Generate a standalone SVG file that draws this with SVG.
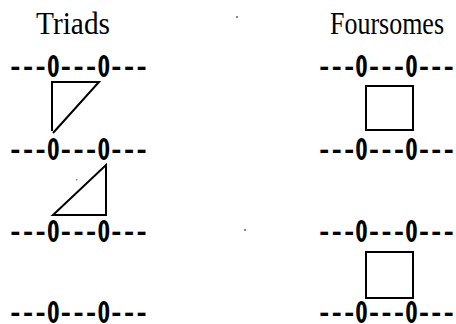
<svg xmlns="http://www.w3.org/2000/svg" width="456" height="324" viewBox="0 0 456 324">
<style>
.row{font-family:"Noto Sans Mono CJK JP","Liberation Mono",monospace;font-size:30px;font-weight:bold;fill:#000}
.title{font-family:"Liberation Serif",serif;font-size:31px;fill:#000}
.shape{fill:none;stroke:#000;stroke-width:2;stroke-linejoin:miter}
.dot{fill:#888}
</style>
<rect width="456" height="324" fill="#fff"/>
<g id="titles">
<text class="title" x="36" y="34" textLength="74" lengthAdjust="spacingAndGlyphs">Triads</text>
<text class="title" x="330" y="34" textLength="114" lengthAdjust="spacingAndGlyphs">Foursomes</text>
</g>
<g id="left-rows">
<text class="row" x="9" y="77" textLength="139" lengthAdjust="spacingAndGlyphs">---0---0---</text>
<text class="row" x="9" y="160" textLength="139" lengthAdjust="spacingAndGlyphs">---0---0---</text>
<text class="row" x="9" y="242" textLength="139" lengthAdjust="spacingAndGlyphs">---0---0---</text>
<text class="row" x="9" y="323" textLength="139" lengthAdjust="spacingAndGlyphs">---0---0---</text>
</g>
<g id="right-rows">
<text class="row" x="318" y="77" textLength="137" lengthAdjust="spacingAndGlyphs">---0---0---</text>
<text class="row" x="318" y="160" textLength="137" lengthAdjust="spacingAndGlyphs">---0---0---</text>
<text class="row" x="318" y="242" textLength="137" lengthAdjust="spacingAndGlyphs">---0---0---</text>
<text class="row" x="318" y="323" textLength="137" lengthAdjust="spacingAndGlyphs">---0---0---</text>
</g>
<g id="connectors">
<path id="triad1" class="shape" d="M52,131 V82 H99 L53,133"/>
<path id="triad2" class="shape" d="M106,165 V215 H53 Z"/>
<rect id="foursome1" class="shape" x="366" y="86" width="47" height="44"/>
<rect id="foursome2" class="shape" x="366" y="252" width="47" height="46"/>
</g>
<g id="specks">
<rect class="dot" x="236" y="16" width="2" height="2"/>
<rect class="dot" x="244" y="229" width="2" height="2"/>
<rect class="dot" x="76" y="179" width="1.5" height="1.5"/>
</g>
</svg>
